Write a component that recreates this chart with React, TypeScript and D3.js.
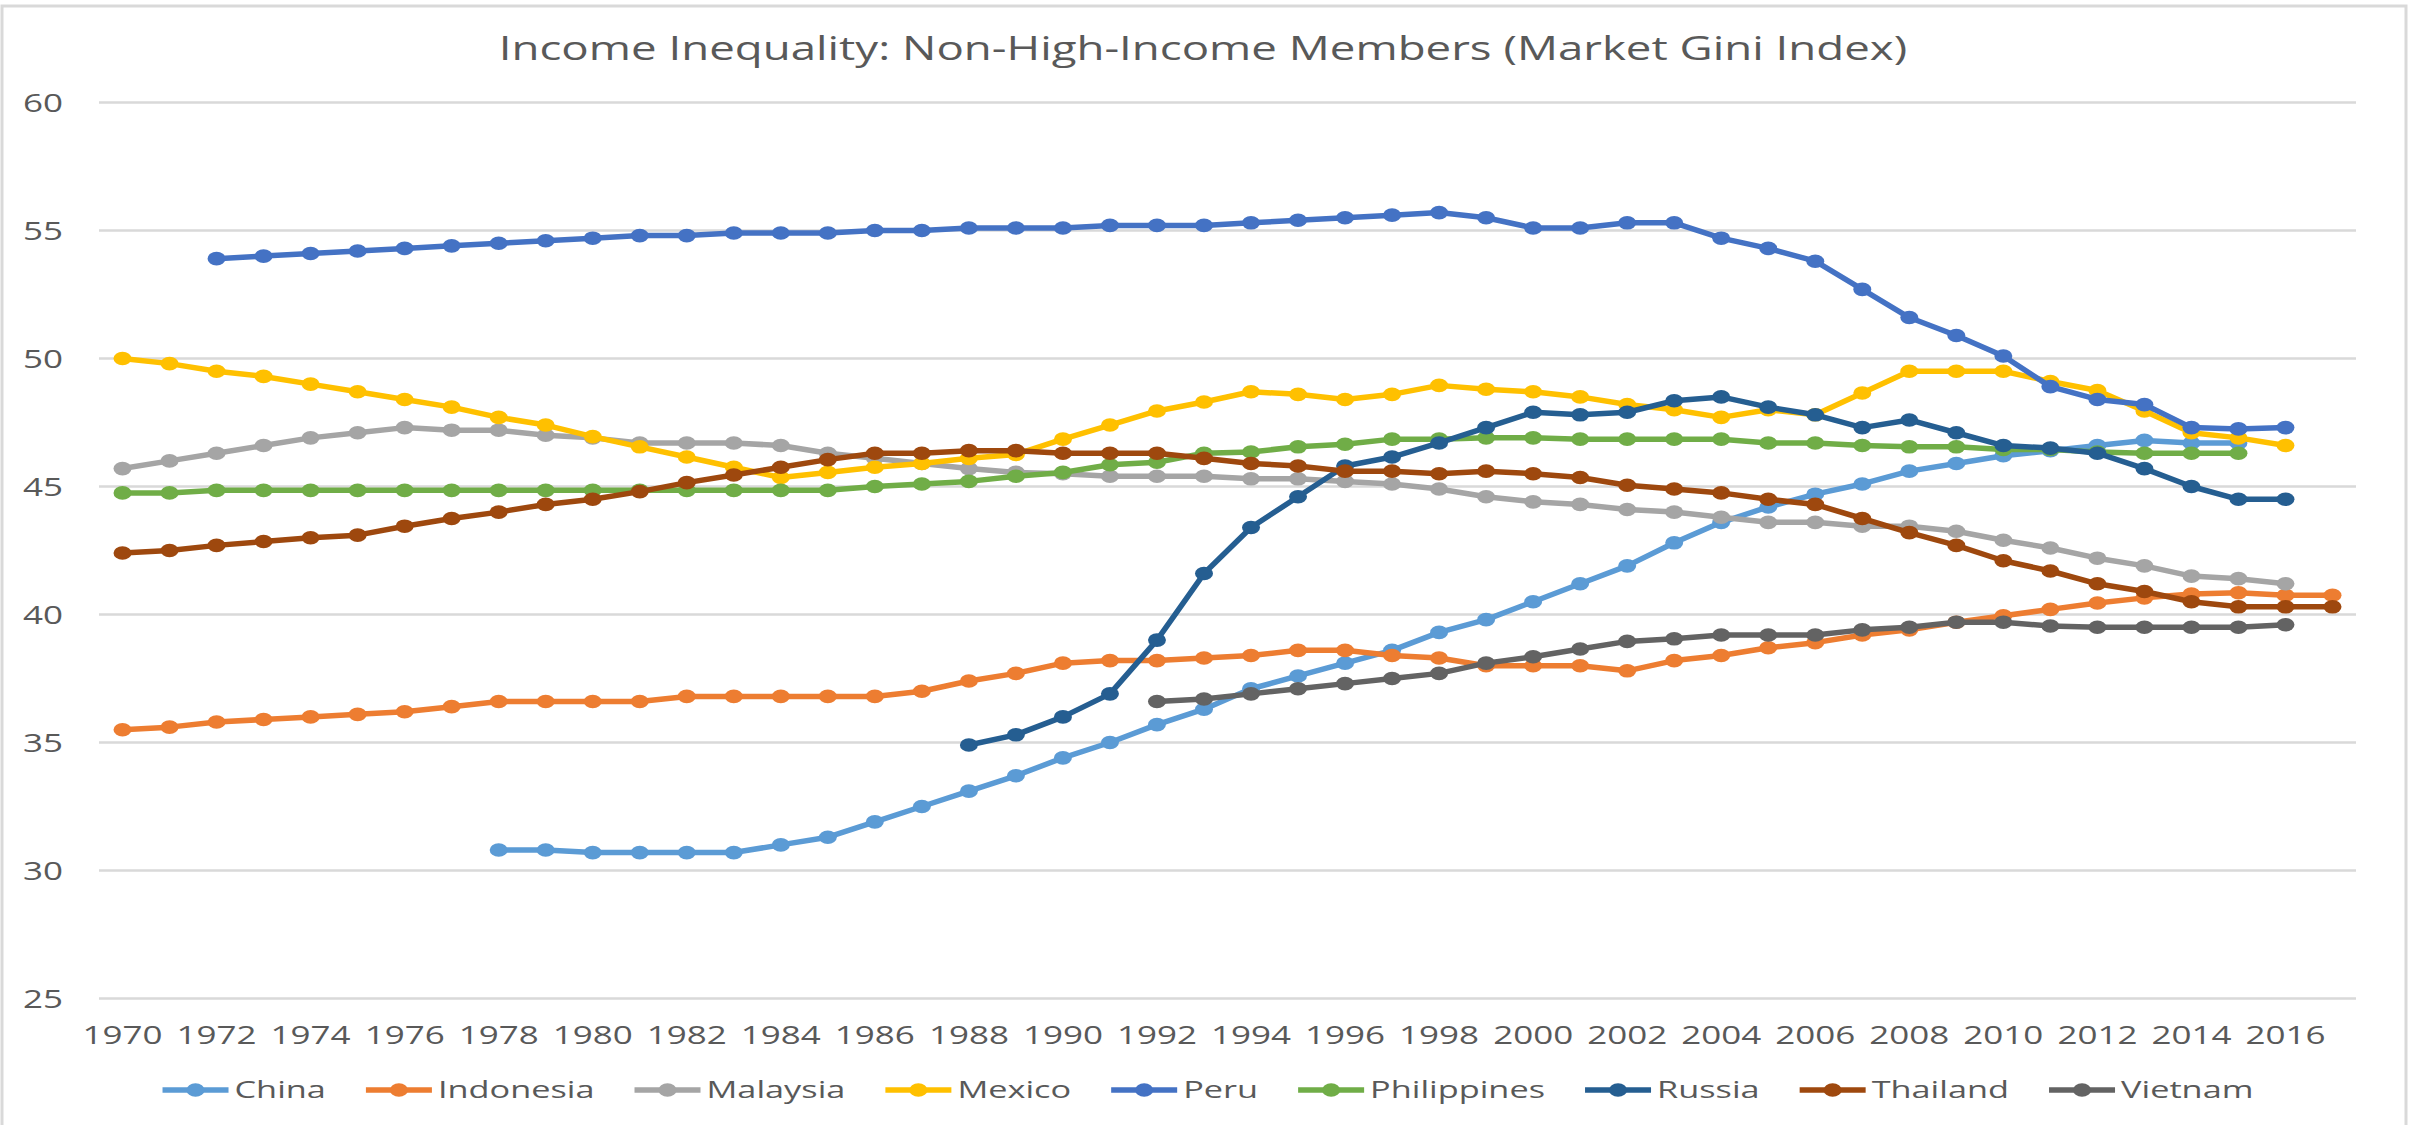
import * as d3 from "d3";

const years = d3.range(1970, 2018);

const china = [30.8, 30.8, 30.7, 30.7, 30.7, 30.7, 31.0, 31.3, 31.9, 32.5, 33.1, 33.7, 34.4, 35.0, 35.7, 36.3, 37.1, 37.6, 38.1, 38.6, 39.3, 39.8, 40.5, 41.2, 41.9, 42.8, 43.6, 44.2, 44.7, 45.1, 45.6, 45.9, 46.2, 46.4, 46.6, 46.8, 46.7, 46.7];
const indonesia = [35.5, 35.6, 35.8, 35.9, 36.0, 36.1, 36.2, 36.4, 36.6, 36.6, 36.6, 36.6, 36.8, 36.8, 36.8, 36.8, 36.8, 37.0, 37.4, 37.7, 38.1, 38.2, 38.2, 38.3, 38.4, 38.6, 38.6, 38.4, 38.3, 38.0, 38.0, 38.0, 37.8, 38.2, 38.4, 38.7, 38.9, 39.2, 39.4, 39.7, 39.95, 40.2, 40.45, 40.65, 40.8, 40.85, 40.75, 40.75];
const malaysia = [45.7, 46.0, 46.3, 46.6, 46.9, 47.1, 47.3, 47.2, 47.2, 47.0, 46.9, 46.7, 46.7, 46.7, 46.6, 46.3, 46.1, 45.9, 45.7, 45.55, 45.5, 45.4, 45.4, 45.4, 45.3, 45.3, 45.2, 45.1, 44.9, 44.6, 44.4, 44.3, 44.1, 44.0, 43.8, 43.6, 43.6, 43.45, 43.45, 43.25, 42.9, 42.6, 42.2, 41.9, 41.5, 41.4, 41.2];
const mexico = [50.0, 49.8, 49.5, 49.3, 49.0, 48.7, 48.4, 48.1, 47.7, 47.4, 46.95, 46.55, 46.15, 45.75, 45.35, 45.55, 45.75, 45.9, 46.1, 46.25, 46.85, 47.4, 47.95, 48.3, 48.7, 48.6, 48.4, 48.6, 48.95, 48.8, 48.7, 48.5, 48.2, 48.0, 47.7, 48.0, 47.8, 48.65, 49.5, 49.5, 49.5, 49.1, 48.75, 47.95, 47.1, 46.9, 46.6];
const peru = [53.9, 54.0, 54.1, 54.2, 54.3, 54.4, 54.5, 54.6, 54.7, 54.8, 54.8, 54.9, 54.9, 54.9, 55.0, 55.0, 55.1, 55.1, 55.1, 55.2, 55.2, 55.2, 55.3, 55.4, 55.5, 55.6, 55.7, 55.5, 55.1, 55.1, 55.3, 55.3, 54.7, 54.3, 53.8, 52.7, 51.6, 50.9, 50.1, 48.9, 48.4, 48.2, 47.3, 47.25, 47.3];
const philippines = [44.75, 44.75, 44.85, 44.85, 44.85, 44.85, 44.85, 44.85, 44.85, 44.85, 44.85, 44.85, 44.85, 44.85, 44.85, 44.85, 45.0, 45.1, 45.2, 45.4, 45.55, 45.85, 45.95, 46.3, 46.35, 46.55, 46.65, 46.85, 46.85, 46.9, 46.9, 46.85, 46.85, 46.85, 46.85, 46.7, 46.7, 46.6, 46.55, 46.55, 46.45, 46.45, 46.35, 46.3, 46.3, 46.3];
const russia = [34.9, 35.3, 36.0, 36.9, 39.0, 41.6, 43.4, 44.6, 45.8, 46.15, 46.7, 47.3, 47.9, 47.8, 47.9, 48.35, 48.5, 48.1, 47.8, 47.3, 47.6, 47.1, 46.6, 46.5, 46.3, 45.7, 45.0, 44.5, 44.5];
const thailand = [42.4, 42.5, 42.7, 42.85, 43.0, 43.1, 43.45, 43.75, 44.0, 44.3, 44.5, 44.8, 45.15, 45.45, 45.75, 46.05, 46.3, 46.3, 46.4, 46.4, 46.3, 46.3, 46.3, 46.1, 45.9, 45.8, 45.6, 45.6, 45.5, 45.6, 45.5, 45.35, 45.05, 44.9, 44.75, 44.5, 44.3, 43.75, 43.2, 42.7, 42.1, 41.7, 41.2, 40.9, 40.5, 40.3, 40.3, 40.3];
const vietnam = [36.6, 36.7, 36.9, 37.1, 37.3, 37.5, 37.7, 38.1, 38.35, 38.65, 38.95, 39.05, 39.2, 39.2, 39.2, 39.4, 39.5, 39.7, 39.7, 39.55, 39.5, 39.5, 39.5, 39.5, 39.6];

const names = ["China", "Indonesia", "Malaysia", "Mexico", "Peru", "Philippines", "Russia", "Thailand", "Vietnam"];
const startYears = [1978, 1970, 1970, 1970, 1972, 1970, 1988, 1970, 1992];
const colors = ["#5B9BD5", "#ED7D31", "#A5A5A5", "#FFC000", "#4472C4", "#70AD47", "#255E91", "#9E480E", "#636363"];
const yTicks = [25, 30, 35, 40, 45, 50, 55, 60];
const title = "Income Inequality: Non-High-Income Members (Market Gini Index)";

const W = 2420;
const H = 1125;
const SX = 1.4; // the picture is stretched sideways
const FONT = '"Open Sans", "Liberation Sans", sans-serif';
const TEXT = "#595959";

const seriesList = [china, indonesia, malaysia, mexico, peru, philippines, russia, thailand, vietnam].map((vals, i) => ({
  name: names[i],
  color: colors[i],
  points: vals.map((v, j) => ({ year: startYears[i] + j, value: v })),
}));

function measure(txt: string, size: number) {
  const ctx = document.createElement("canvas").getContext("2d");
  if (!ctx) return txt.length * size * 0.55;
  ctx.font = `${size}px ${FONT}`;
  return ctx.measureText(txt).width;
}

export default function App() {
  const x = d3.scalePoint<number>().domain(years).range([99, 2356]).padding(0.5);
  const y = d3.scaleLinear().domain([25, 60]).range([998.5, 102.5]);

  const line = d3
    .line<{ year: number; value: number }>()
    .x((d) => x(d.year) as number)
    .y((d) => y(d.value));

  // legend layout
  const legendSize = 24.5;
  const swatch = 66;
  const gapText = 6;
  const gapItem = 40;
  const widths = names.map((n) => measure(n, legendSize) * SX);
  const total = d3.sum(widths) + names.length * (swatch + gapText) + (names.length - 1) * gapItem;
  let cursor = 1208 - total / 2;
  const legendItems = names.map((n, i) => {
    const item = { name: n, color: colors[i], x: cursor };
    cursor += swatch + gapText + widths[i] + gapItem;
    return item;
  });

  return (
    <svg
      width={W}
      height={H}
      style={{ position: "absolute", left: 0, top: 0, background: "#fff" }}
      fontFamily={FONT}
    >
      <rect x={2} y={6} width={2404} height={1200} fill="#fff" stroke="#d9d9d9" strokeWidth={3} />

      <text transform={`translate(1203,60) scale(${SX},1)`} textAnchor="middle" fontSize={32.6} fill={TEXT}>
        {title}
      </text>

      {yTicks.map((t) => (
        <g key={t}>
          <line x1={99} x2={2356} y1={y(t)} y2={y(t)} stroke="#d9d9d9" strokeWidth={2.5} />
          <text
            transform={`translate(63,${y(t)}) scale(${SX},1)`}
            textAnchor="end"
            dy="0.36em"
            fontSize={25}
            fill={TEXT}
          >
            {t}
          </text>
        </g>
      ))}

      {years
        .filter((yr) => (yr - 1970) % 2 === 0)
        .map((yr) => (
          <text
            key={yr}
            transform={`translate(${x(yr)},1044) scale(${SX},1)`}
            textAnchor="middle"
            fontSize={25}
            fill={TEXT}
          >
            {yr}
          </text>
        ))}

      {seriesList.map((s) => (
        <g key={s.name}>
          <path d={line(s.points) || ""} fill="none" stroke={s.color} strokeWidth={5.5} strokeLinejoin="round" />
          {s.points.map((p) => (
            <ellipse key={p.year} cx={x(p.year)} cy={y(p.value)} rx={9} ry={6.8} fill={s.color} />
          ))}
        </g>
      ))}

      {legendItems.map((it) => (
        <g key={it.name}>
          <line x1={it.x} x2={it.x + swatch} y1={1090} y2={1090} stroke={it.color} strokeWidth={5.5} />
          <ellipse cx={it.x + swatch / 2} cy={1090} rx={9} ry={6.8} fill={it.color} />
          <text
            transform={`translate(${it.x + swatch + gapText},1098) scale(${SX},1)`}
            fontSize={legendSize}
            fill={TEXT}
          >
            {it.name}
          </text>
        </g>
      ))}
    </svg>
  );
}
